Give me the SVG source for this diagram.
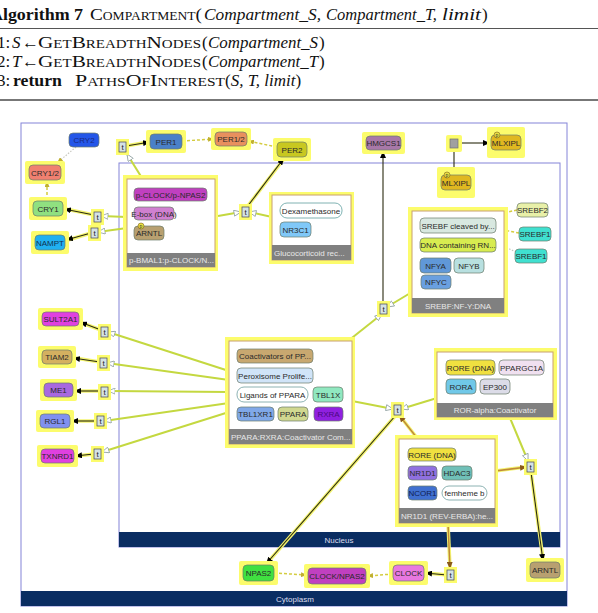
<svg xmlns="http://www.w3.org/2000/svg" width="598" height="613" viewBox="0 0 598 613">
<defs>
<style>
.alg{font-family:"Liberation Serif","DejaVu Serif",serif;font-size:17px;fill:#111}
.sc{font-variant:small-caps}
.it{font-style:italic}
.bd{font-weight:bold}
.hl{fill:#fcfc6c}
.nd{stroke:#6b7b6b;stroke-width:0.7}
.lb{font-family:"Liberation Sans",Arial,sans-serif;font-size:8px;fill:#2a2a2a;text-anchor:middle}
.cx{fill:#fff;stroke:#c8a070;stroke-width:1}
.bar{fill:#808080}
.bl{font-family:"Liberation Sans",Arial,sans-serif;font-size:8px;fill:#e8e8e8}
.cmp{fill:none;stroke:#8484d8;stroke-width:1}
.cbar{fill:#0a2d62}
.cl{font-family:"Liberation Sans",Arial,sans-serif;font-size:8px;fill:#dde;text-anchor:middle}
.tb{fill:#d4e2e4;stroke:#445;stroke-width:0.7}
.tt{font-family:"Liberation Sans",Arial,sans-serif;font-size:8px;fill:#222;text-anchor:middle}
.pc{fill:#e8e040;stroke:#806020;stroke-width:0.6}
.pt{font-family:"Liberation Sans",Arial,sans-serif;font-size:5px;fill:#333;text-anchor:middle}
.g{stroke:#c4d840;stroke-width:2;fill:none;marker-end:url(#opn)}
.halo{stroke:#f4f470;stroke-width:3.5;fill:none}
.d{stroke:#2a2a10;stroke-width:1.1;fill:none;marker-end:url(#blk)}
.dn{stroke:#2a2a10;stroke-width:1.1;fill:none}
.b{stroke:#c08a38;stroke-width:1.5;fill:none;marker-end:url(#brn)}
.s{stroke:#d4cc40;stroke-width:1.5;stroke-dasharray:3 2;fill:none;marker-end:url(#olv)}
.dt{stroke:#c8c8c0;stroke-width:1.2;stroke-dasharray:1.5 1.5;fill:none;marker-end:url(#olv)}
</style>
<marker id="blk" markerUnits="userSpaceOnUse" markerWidth="7" markerHeight="6" refX="7" refY="3" orient="auto"><path d="M0,0 L7,3 L0,6 z" fill="#000"/></marker>
<marker id="opn" markerUnits="userSpaceOnUse" markerWidth="8" markerHeight="7" refX="7.5" refY="3.5" orient="auto"><path d="M0.5,0.5 L7.5,3.5 L0.5,6.5 z" fill="#fff" stroke="#8fa0a0" stroke-width="0.8"/></marker>
<marker id="olv" markerUnits="userSpaceOnUse" markerWidth="6" markerHeight="5" refX="6" refY="2.5" orient="auto"><path d="M0,0 L6,2.5 L0,5 z" fill="#c0b030"/></marker>
<marker id="brn" markerUnits="userSpaceOnUse" markerWidth="7" markerHeight="6" refX="7" refY="3" orient="auto"><path d="M0,0 L7,3 L0,6 z" fill="#8a5a18"/></marker>
</defs>
<rect width="598" height="613" fill="#fff"/>

<g id="algorithm">
<text class="alg bd" x="-10" y="20" textLength="93" lengthAdjust="spacingAndGlyphs">Algorithm 7</text>
<text class="alg sc" x="90" y="20" textLength="112" lengthAdjust="spacingAndGlyphs">Compartment(</text>
<text class="alg it" x="204" y="20" textLength="117" lengthAdjust="spacingAndGlyphs">Compartment_S,</text>
<text class="alg it" x="326" y="20" textLength="111" lengthAdjust="spacingAndGlyphs">Compartment_T,</text>
<text class="alg it" x="442" y="20" textLength="39" lengthAdjust="spacingAndGlyphs">limit</text>
<text class="alg" x="482" y="20">)</text>
<line x1="0" y1="28.5" x2="598" y2="28.5" stroke="#555" stroke-width="1"/>
<text class="alg" x="-3" y="48">1:</text>
<text class="alg it" x="12" y="48">S</text>
<text class="alg" x="22" y="48">←</text>
<text class="alg sc" x="38" y="48" textLength="163" lengthAdjust="spacingAndGlyphs">GetBreadthNodes</text>
<text class="alg" x="202" y="48">(</text>
<text class="alg it" x="208" y="48" textLength="110" lengthAdjust="spacingAndGlyphs">Compartment_S</text>
<text class="alg" x="319" y="48">)</text>
<text class="alg" x="-3" y="67">2:</text>
<text class="alg it" x="12" y="67">T</text>
<text class="alg" x="22" y="67">←</text>
<text class="alg sc" x="38" y="67" textLength="163" lengthAdjust="spacingAndGlyphs">GetBreadthNodes</text>
<text class="alg" x="202" y="67">(</text>
<text class="alg it" x="208" y="67" textLength="110" lengthAdjust="spacingAndGlyphs">Compartment_T</text>
<text class="alg" x="319" y="67">)</text>
<text class="alg" x="-3" y="86">3:</text>
<text class="alg bd" x="13" y="86" textLength="49" lengthAdjust="spacingAndGlyphs">return</text>
<text class="alg sc" x="75" y="86" textLength="150" lengthAdjust="spacingAndGlyphs">PathsOfInterest</text>
<text class="alg" x="225" y="86">(<tspan class="it">S, T, limit</tspan>)</text>
<line x1="0" y1="100" x2="598" y2="100" stroke="#777" stroke-width="2"/>
</g>

<g id="cytoplasm">
<rect class="cmp" x="21" y="123" width="546" height="483"/>
<rect class="cbar" x="21" y="591" width="546" height="15"/>
<text class="cl" x="295" y="601.5">Cytoplasm</text>
</g>
<g id="nucleus">
<rect class="cmp" x="119" y="163" width="441" height="384"/>
<rect class="cbar" x="119" y="532" width="441" height="15"/>
<text class="cl" x="339" y="542.5">Nucleus</text>
</g>

<g id="connectors">
<g id="green-edges">
<path class="g" d="M142,178 L127,154"/>
<path class="g" d="M127,217 L101,216"/>
<path class="g" d="M127,228 L98,232"/>
<path class="g" d="M218,216 L241,212"/>
<path class="g" d="M272,217 L249,212"/>
<path class="g" d="M412,292 L387,307"/>
<path class="g" d="M348,341 L382,314"/>
<path class="g" d="M352,401 L393,409"/>
<path class="g" d="M437,398 L401,409"/>
<path class="g" d="M510,418 L528,461"/>
<path class="g" d="M229,371 L108,332"/>
<path class="g" d="M229,380 L107,363"/>
<path class="g" d="M229,392 L108,391"/>
<path class="g" d="M229,403 L104,421"/>
<path class="g" d="M229,412 L102,452"/>
</g>
<g id="halos">
<path class="halo" d="M126,146 L148,142"/>
<path class="halo" d="M94,215 L66,209"/>
<path class="halo" d="M91,233 L68,240"/>
<path class="halo" d="M247,207 L283,160"/>
<path class="halo" d="M101,330 L82,323"/>
<path class="halo" d="M100,362 L75,358"/>
<path class="halo" d="M101,391 L76,391"/>
<path class="halo" d="M97,421 L73,421"/>
<path class="halo" d="M94,454 L77,456"/>
<path class="halo" d="M396,415 L268,562"/>
<path class="halo" d="M531,472 L543,559"/>
<path class="halo" d="M447,575 L427,573"/>
<path class="halo" d="M417,438 L400,416"/>
<path class="halo" d="M495,471 L526,467"/>
<path class="halo" d="M448,523 L450,568"/>
</g>
<g id="dark-edges">
<path class="d" d="M126,146 L150,142"/>
<path class="d" d="M94,215 L64,209"/>
<path class="d" d="M91,233 L66,240"/>
<path class="d" d="M247,207 L284,158"/>
<path class="d" d="M383,304 L383,151"/>
<path class="d" d="M458,143 L490,143"/>
<path class="dn" d="M454,175 L454,148"/>
<path class="d" d="M101,330 L80,322"/>
<path class="d" d="M100,362 L73,358"/>
<path class="d" d="M101,391 L74,391"/>
<path class="d" d="M97,421 L71,421"/>
<path class="d" d="M94,454 L75,456"/>
<path class="d" d="M396,415 L266,564"/>
<path class="d" d="M531,472 L543,561"/>
<path class="d" d="M447,575 L425,573"/>
</g>
<g id="brown-edges">
<path class="b" d="M417,438 L399,415"/>
<path class="b" d="M495,471 L527,467"/>
<path class="b" d="M448,523 L450,569"/>
</g>
<g id="dashed-edges">
<path class="s" d="M182,141 L214,139"/>
<path class="s" d="M277,147 L248,141"/>
<path class="dt" d="M76,147 L57,163"/>
<path class="s" d="M47,200 L47,181"/>
<path class="s" d="M274,573 L307,575"/>
<path class="s" d="M393,574 L367,576"/>
<path class="s" d="M517,210 L499,214"/>
<path class="s" d="M519,233 L498,229"/>
<path class="dt" d="M516,252 L481,236"/>
</g>
</g>

<g id="t-boxes">
<g id="t-per1"><rect class="hl" x="116" y="139" width="13" height="16"/><rect class="tb" x="119" y="142" width="7" height="10"/><text class="tt" x="122.5" y="150">t</text></g>
<g id="t-cry1"><rect class="hl" x="91" y="209" width="13" height="16"/><rect class="tb" x="94" y="212" width="7" height="10"/><text class="tt" x="97.5" y="220">t</text></g>
<g id="t-nampt"><rect class="hl" x="88" y="225" width="13" height="16"/><rect class="tb" x="91" y="228" width="7" height="10"/><text class="tt" x="94.5" y="236">t</text></g>
<g id="t-per2"><rect class="hl" x="239" y="204" width="13" height="16"/><rect class="tb" x="242" y="207" width="7" height="10"/><text class="tt" x="245.5" y="215">t</text></g>
<g id="t-hmgcs1"><rect class="hl" x="377" y="301" width="13" height="16"/><rect class="tb" x="380" y="304" width="7" height="10"/><text class="tt" x="383.5" y="312">t</text></g>
<g id="t-npas2"><rect class="hl" x="391" y="402" width="13" height="16"/><rect class="tb" x="394" y="405" width="7" height="10"/><text class="tt" x="397.5" y="413">t</text></g>
<g id="t-arntl"><rect class="hl" x="524" y="459" width="13" height="16"/><rect class="tb" x="527" y="462" width="7" height="10"/><text class="tt" x="530.5" y="470">t</text></g>
<g id="t-clock"><rect class="hl" x="444" y="567" width="13" height="16"/><rect class="tb" x="447" y="570" width="7" height="10"/><text class="tt" x="450.5" y="578">t</text></g>
<g id="t-sult2a1"><rect class="hl" x="98" y="324" width="13" height="16"/><rect class="tb" x="101" y="327" width="7" height="10"/><text class="tt" x="104.5" y="335">t</text></g>
<g id="t-tiam2"><rect class="hl" x="97" y="355" width="13" height="16"/><rect class="tb" x="100" y="358" width="7" height="10"/><text class="tt" x="103.5" y="366">t</text></g>
<g id="t-me1"><rect class="hl" x="98" y="384" width="13" height="16"/><rect class="tb" x="101" y="387" width="7" height="10"/><text class="tt" x="104.5" y="395">t</text></g>
<g id="t-rgl1"><rect class="hl" x="94" y="413" width="13" height="16"/><rect class="tb" x="97" y="416" width="7" height="10"/><text class="tt" x="100.5" y="424">t</text></g>
<g id="t-txnrd1"><rect class="hl" x="91" y="446" width="13" height="16"/><rect class="tb" x="94" y="449" width="7" height="10"/><text class="tt" x="97.5" y="457">t</text></g>
</g>

<g id="n-cry2"><rect class="nd" x="69" y="133" width="30" height="14" rx="4" fill="#2456e8"/><text class="lb" x="84" y="143" style="fill:#1a2a80">CRY2</text></g>
<g id="n-per1"><rect class="hl" x="146" y="130" width="40" height="23" rx="2"/><rect class="nd" x="150" y="134" width="32" height="15" rx="4" fill="#4a80c8"/><text class="lb" x="166" y="144.5">PER1</text></g>
<g id="n-per12"><rect class="hl" x="211" y="128" width="40" height="22" rx="2"/><rect class="nd" x="215" y="132" width="32" height="14" rx="4" fill="#e8905e"/><text class="lb" x="231" y="142">PER1/2</text></g>
<g id="n-per2"><rect class="hl" x="273" y="138" width="38" height="23" rx="2"/><rect class="nd" x="277" y="142" width="30" height="15" rx="4" fill="#c8c820"/><text class="lb" x="292" y="152.5">PER2</text></g>
<g id="n-cry12"><rect class="hl" x="25" y="161" width="40" height="23" rx="2"/><rect class="nd" x="29" y="165" width="32" height="15" rx="4" fill="#f08070"/><text class="lb" x="45" y="175.5">CRY1/2</text></g>
<g id="n-cry1"><rect class="hl" x="29" y="197" width="38" height="23" rx="2"/><rect class="nd" x="33" y="201" width="30" height="15" rx="4" fill="#90e080"/><text class="lb" x="48" y="211.5">CRY1</text></g>
<g id="n-nampt"><rect class="hl" x="31" y="231" width="38" height="23" rx="2"/><rect class="nd" x="35" y="235" width="30" height="15" rx="4" fill="#20b0f0"/><text class="lb" x="50" y="245.5" style="fill:#103050">NAMPT</text></g>
<g id="n-hmgcs1"><rect class="hl" x="362" y="132" width="43" height="22" rx="2"/><rect class="nd" x="366" y="136" width="35" height="14" rx="4" fill="#a878a8"/><text class="lb" x="383.5" y="146">HMGCS1</text></g>
<g id="n-process"><rect class="hl" x="446" y="135" width="16" height="17" rx="2"/><rect x="450" y="139" width="8" height="9" fill="#a0a0a0" stroke="#707070" stroke-width="0.7"/></g>
<g id="n-mlxipl-c"><rect class="hl" x="487" y="127" width="38" height="31" rx="2"/><rect class="nd" x="491" y="135" width="30" height="15" rx="4" fill="#e0b820"/><text class="lb" x="506" y="145.5">MLXIPL</text><circle class="pc" cx="497" cy="135" r="3"/><text class="pt" x="497" y="136.8">p</text></g>
<g id="n-mlxipl-n"><rect class="hl" x="437" y="167" width="38" height="31" rx="2"/><rect class="nd" x="441" y="175" width="30" height="15" rx="4" fill="#e0b820"/><text class="lb" x="456" y="185.5">MLXIPL</text><circle class="pc" cx="447" cy="175" r="3"/><text class="pt" x="447" y="176.8">p</text></g>
<g id="n-srebf2"><rect class="nd" x="517" y="203" width="31" height="14" rx="4" fill="#e8f0a8"/><text class="lb" x="532.5" y="213">SREBF2</text></g>
<g id="n-srebf1a"><rect class="nd" x="519" y="227" width="32" height="14" rx="4" fill="#40e0d0"/><text class="lb" x="535" y="237">SREBF1</text></g>
<g id="n-srebf1b"><rect class="nd" x="515" y="249" width="32" height="14" rx="4" fill="#40e0d0"/><text class="lb" x="531" y="259">SREBF1</text></g>
<g id="n-sult2a1"><rect class="hl" x="38" y="308" width="45" height="22" rx="2"/><rect class="nd" x="42" y="312" width="37" height="14" rx="4" fill="#e040e0"/><text class="lb" x="60.5" y="322">SULT2A1</text></g>
<g id="n-tiam2"><rect class="hl" x="38" y="346" width="38" height="22" rx="2"/><rect class="nd" x="42" y="350" width="30" height="14" rx="4" fill="#d4b060"/><text class="lb" x="57" y="360">TIAM2</text></g>
<g id="n-me1"><rect class="hl" x="40" y="379" width="37" height="22" rx="2"/><rect class="nd" x="44" y="383" width="29" height="14" rx="4" fill="#a868e0"/><text class="lb" x="58.5" y="393">ME1</text></g>
<g id="n-rgl1"><rect class="hl" x="36" y="410" width="38" height="22" rx="2"/><rect class="nd" x="40" y="414" width="30" height="14" rx="4" fill="#8090f0"/><text class="lb" x="55" y="424">RGL1</text></g>
<g id="n-txnrd1"><rect class="hl" x="37" y="445" width="41" height="22" rx="2"/><rect class="nd" x="41" y="449" width="33" height="14" rx="4" fill="#e040e0"/><text class="lb" x="57.5" y="459">TXNRD1</text></g>
<g id="n-npas2"><rect class="hl" x="239" y="561" width="39" height="24" rx="2"/><rect class="nd" x="243" y="565" width="31" height="16" rx="4" fill="#40e040"/><text class="lb" x="258.5" y="576">NPAS2</text></g>
<g id="n-clocknpas2"><rect class="hl" x="304" y="564" width="66" height="24" rx="2"/><rect class="nd" x="308" y="568" width="58" height="16" rx="4" fill="#c040c0"/><text class="lb" x="337" y="579">CLOCK/NPAS2</text></g>
<g id="n-clock"><rect class="hl" x="389" y="561" width="39" height="24" rx="2"/><rect class="nd" x="393" y="565" width="31" height="16" rx="4" fill="#e878e0"/><text class="lb" x="408.5" y="576">CLOCK</text></g>
<g id="n-arntl"><rect class="hl" x="526" y="558" width="38" height="24" rx="2"/><rect class="nd" x="530" y="562" width="30" height="16" rx="4" fill="#b8a070"/><text class="lb" x="545" y="573">ARNTL</text></g>

<g id="c-bmal1">
<rect class="hl" x="123" y="175" width="95" height="96"/>
<rect class="cx" x="127" y="179" width="88" height="88"/>
<rect class="bar" x="127" y="253" width="88" height="14"/>
<text class="bl" x="129" y="263">p-BMAL1:p-CLOCK/N...</text>
<rect class="nd" x="134" y="188" width="73" height="13" rx="4" fill="#c040c0"/><text class="lb" x="170.5" y="197.5">p-CLOCK/p-NPAS2</text>
<rect class="nd" x="134" y="207" width="40" height="13" rx="4" fill="#d080d0"/><text class="lb" x="154" y="216.5">E-box (DNA)</text>
<rect class="nd" x="134" y="226" width="30" height="14" rx="4" fill="#b8a070"/><text class="lb" x="149" y="236">ARNTL</text>
<circle class="pc" cx="141" cy="226" r="3"/><text class="pt" x="141" y="227.8">p</text>
</g>
<g id="c-gluco">
<rect class="hl" x="269" y="192" width="85" height="72"/>
<rect class="cx" x="272" y="195" width="79" height="65"/>
<rect class="bar" x="272" y="245" width="79" height="15"/>
<text class="bl" x="274" y="255.5">Glucocorticoid rec...</text>
<rect x="280" y="203" width="62" height="15" rx="7" fill="#fff" stroke="#60a0a0" stroke-width="0.8"/><text class="lb" x="311" y="213.5">Dexamethasone</text>
<rect class="nd" x="280" y="222" width="31" height="15" rx="4" fill="#80c8f8"/><text class="lb" x="295.5" y="232.5">NR3C1</text>
</g>
<g id="c-srebf">
<rect class="hl" x="408" y="207" width="100" height="110"/>
<rect class="cx" x="412" y="211" width="92" height="102"/>
<rect class="bar" x="412" y="298" width="92" height="15"/>
<text class="bl" x="458" y="308.5" text-anchor="middle">SREBF:NF-Y:DNA</text>
<rect class="nd" x="420" y="218" width="76" height="15" rx="4" fill="#d8e8e0"/><text class="lb" x="458" y="228.5">SREBF cleaved by...</text>
<rect class="nd" x="420" y="238" width="76" height="14" rx="4" fill="#d8ec50"/><text class="lb" x="458" y="248">DNA containing RN...</text>
<rect class="nd" x="420" y="258" width="31" height="15" rx="4" fill="#6098d8"/><text class="lb" x="435.5" y="268.5">NFYA</text>
<rect class="nd" x="454" y="258" width="30" height="15" rx="4" fill="#b8e0e0"/><text class="lb" x="469" y="268.5">NFYB</text>
<rect class="nd" x="421" y="275" width="30" height="14" rx="4" fill="#6aa0e0"/><text class="lb" x="436" y="285">NFYC</text>
</g>
<g id="c-ppara">
<rect class="hl" x="225" y="337" width="130" height="111"/>
<rect class="cx" x="229" y="341" width="123" height="103"/>
<rect class="bar" x="229" y="429" width="123" height="15"/>
<text class="bl" x="231" y="439.5">PPARA:RXRA:Coactivator Com...</text>
<rect class="nd" x="237" y="349" width="76" height="14" rx="4" fill="#c8a870"/><text class="lb" x="275" y="359">Coactivators of PP...</text>
<rect class="nd" x="237" y="368" width="76" height="15" rx="4" fill="#d0e4f8"/><text class="lb" x="275" y="378.5">Peroxisome Prolife...</text>
<rect x="237" y="387" width="71" height="15" rx="7" fill="#fff" stroke="#70a0a0" stroke-width="0.8"/><text class="lb" x="272.5" y="397.5">Ligands of PPARA</text>
<rect class="nd" x="313" y="387" width="30" height="15" rx="4" fill="#90e8c0"/><text class="lb" x="328" y="397.5">TBL1X</text>
<rect class="nd" x="237" y="407" width="37" height="14" rx="4" fill="#80a8e8"/><text class="lb" x="255.5" y="417">TBL1XR1</text>
<rect class="nd" x="278" y="407" width="30" height="14" rx="4" fill="#d0d890"/><text class="lb" x="293" y="417">PPARA</text>
<rect class="nd" x="314" y="407" width="29" height="14" rx="4" fill="#9020e0"/><text class="lb" x="328.5" y="417" style="fill:#4a0a80">RXRA</text>
</g>
<g id="c-ror">
<rect class="hl" x="434" y="348" width="123" height="72"/>
<rect class="cx" x="437" y="352" width="116" height="65"/>
<rect class="bar" x="437" y="403" width="116" height="14"/>
<text class="bl" x="495" y="413" text-anchor="middle">ROR-alpha:Coactivator</text>
<rect class="nd" x="446" y="360" width="49" height="15" rx="4" fill="#f0e040"/><text class="lb" x="470.5" y="370.5">RORE (DNA)</text>
<rect class="nd" x="499" y="360" width="45" height="15" rx="4" fill="#f0e0f0"/><text class="lb" x="521.5" y="370.5">PPARGC1A</text>
<rect class="nd" x="446" y="379" width="30" height="15" rx="4" fill="#70c8e8"/><text class="lb" x="461" y="389.5">RORA</text>
<rect class="nd" x="480" y="379" width="30" height="15" rx="4" fill="#dcdce8"/><text class="lb" x="495" y="389.5">EP300</text>
</g>
<g id="c-nr1d1">
<rect class="hl" x="395" y="435" width="103" height="92"/>
<rect class="cx" x="399" y="439" width="96" height="84"/>
<rect class="bar" x="399" y="508" width="96" height="15"/>
<text class="bl" x="401" y="518.5">NR1D1 (REV-ERBA):he...</text>
<rect class="nd" x="408" y="448" width="48" height="13" rx="4" fill="#f0e040"/><text class="lb" x="432" y="457.5">RORE (DNA)</text>
<rect class="nd" x="408" y="466" width="29" height="14" rx="4" fill="#9070e0"/><text class="lb" x="422.5" y="476">NR1D1</text>
<rect class="nd" x="442" y="466" width="30" height="14" rx="4" fill="#70c0b8"/><text class="lb" x="457" y="476">HDAC3</text>
<rect class="nd" x="408" y="486" width="29" height="14" rx="4" fill="#4070d0"/><text class="lb" x="422.5" y="496" style="fill:#102050">NCOR1</text>
<rect x="442" y="486" width="45" height="14" rx="7" fill="#fff" stroke="#70a0a0" stroke-width="0.8"/><text class="lb" x="464.5" y="496">femheme b</text>
</g>
</svg>
